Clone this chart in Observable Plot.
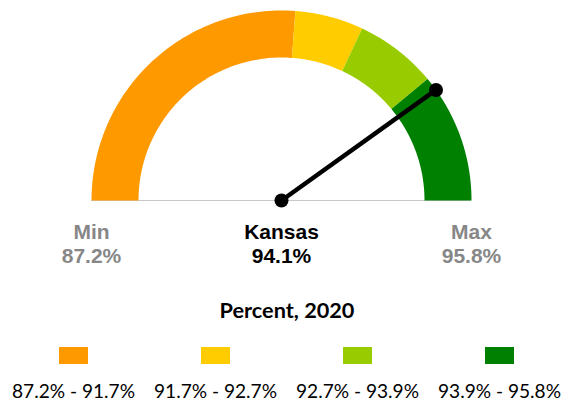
<!DOCTYPE html>
<html>
<head>
<meta charset="utf-8">
<script src="https://cdn.jsdelivr.net/npm/d3@7"></script>
<script src="https://cdn.jsdelivr.net/npm/@observablehq/plot@0.6"></script>
<style>
  html, body { margin: 0; padding: 0; background: #fff; }
  #wrap { position: relative; width: 574px; height: 403px; overflow: hidden; }
  #chart { position: absolute; left: 0; top: 0; }
  #title { position: absolute; left: 0; width: 574px; top: 300px; text-align: center;
           font-family: Lato, sans-serif; font-weight: 700; font-size: 21.7px; line-height: 21px; color: #000; }
  #legend { position: absolute; left: 2.5px; top: 346.7px; display: flex; }
  .item { width: 142px; display: flex; flex-direction: column; align-items: center; }
  .sw { width: 29px; height: 17px; }
  .lab { margin-top: 17px; font-family: Lato, sans-serif; font-size: 19.1px; line-height: 19.5px; color: #000; white-space: nowrap; }
</style>
</head>
<body>
<div id="wrap">
  <div id="chart"></div>
  <div id="title"></div>
  <div id="legend"></div>
</div>
<script>
// ---- data ----
const thresholds = [87.2, 91.7, 92.7, 93.9, 95.8];
const bandColors = ["#FF9900", "#FFCC00", "#99CC00", "#008000"];
const stateName = "Kansas";
const stateValue = 94.1;
const minLabel = "Min";
const maxLabel = "Max";
const legendTitle = "Percent, 2020";
const legendLabels = ["87.2% - 91.7%", "91.7% - 92.7%", "92.7% - 93.9%", "93.9% - 95.8%"];

// ---- geometry derived from data ----
const vMin = thresholds[0], vMax = thresholds[thresholds.length - 1];
const innerRatio = 143 / 190;
const angle = v => Math.PI * (1 - (v - vMin) / (vMax - vMin));
const fmt = v => v.toFixed(1) + "%";

const bands = bandColors.map((c, i) => {
  const a0 = angle(thresholds[i]), a1 = angle(thresholds[i + 1]);
  const n = 80, pts = [];
  for (let k = 0; k <= n; k++) { const a = a0 + (a1 - a0) * k / n; pts.push({x: Math.cos(a), y: Math.sin(a)}); }
  for (let k = n; k >= 0; k--) { const a = a0 + (a1 - a0) * k / n; pts.push({x: innerRatio * Math.cos(a), y: innerRatio * Math.sin(a)}); }
  return {color: c, pts};
});

const needleA = angle(stateValue);
const needle = [{x1: 0, y1: 0, x2: Math.cos(needleA), y2: Math.sin(needleA)}];
const needleDots = [{x: 0, y: 0}, {x: Math.cos(needleA), y: Math.sin(needleA)}];

const labels = [
  {x: Math.cos(angle(vMin)), name: minLabel, val: fmt(vMin), color: "#878787"},
  {x: 0, name: stateName, val: fmt(stateValue), color: "#000"},
  {x: Math.cos(angle(vMax)), name: maxLabel, val: fmt(vMax), color: "#878787"}
];

const chart = Plot.plot({
  width: 574,
  height: 275,
  marginLeft: 91,
  marginRight: 103,
  marginTop: 10,
  marginBottom: 75,
  x: {domain: [-1, 1], axis: null},
  y: {domain: [0, 1], axis: null},
  style: {fontFamily: "'Liberation Sans', Arial, sans-serif", overflow: "visible"},
  marks: [
    Plot.ruleY([0], {x1: -1, x2: 1, stroke: "#c8c8c8", strokeWidth: 1.2}),
    ...bands.map(b => Plot.line(b.pts, {x: "x", y: "y", fill: b.color, stroke: "none", curve: "linear"})),
    Plot.link(needle, {x1: "x1", y1: "y1", x2: "x2", y2: "y2", stroke: "#000", strokeWidth: 4.5}),
    Plot.dot(needleDots, {x: "x", y: "y", r: 7, fill: "#000"}),
    Plot.text(labels, {x: "x", y: () => 0, text: "name", fill: "color", dy: 31.8, fontSize: 21, fontWeight: "bold"}),
    Plot.text(labels, {x: "x", y: () => 0, text: "val", fill: "color", dy: 56, fontSize: 21, fontWeight: "bold"})
  ]
});
document.getElementById("chart").appendChild(chart);

document.getElementById("title").textContent = legendTitle;
const legend = document.getElementById("legend");
legendLabels.forEach((t, i) => {
  const item = document.createElement("div"); item.className = "item";
  const sw = document.createElement("div"); sw.className = "sw"; sw.style.background = bandColors[i];
  const lab = document.createElement("div"); lab.className = "lab"; lab.textContent = t;
  item.appendChild(sw); item.appendChild(lab); legend.appendChild(item);
});
</script>
</body>
</html>
